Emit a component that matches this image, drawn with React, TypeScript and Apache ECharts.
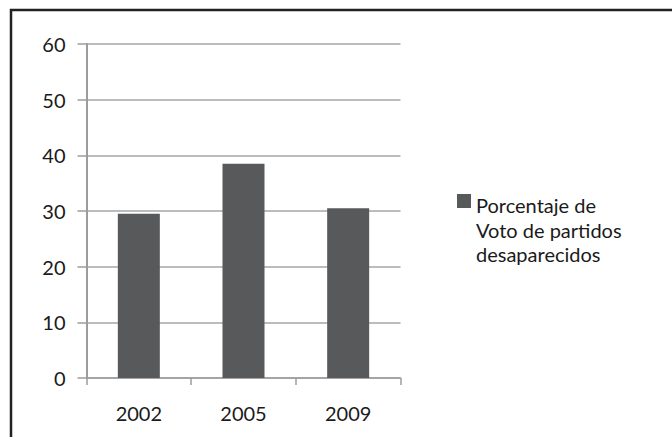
import React, { useEffect, useRef } from "react";
import * as echarts from "echarts";

const categories = ["2002", "2005", "2009"];
const seriesName = "Porcentaje de\nVoto de partidos\ndesaparecidos";
const values = [29.5, 38.5, 30.5];
const yMin = 0;
const yMax = 60;
const yInterval = 10;

export default function App() {
  const ref = useRef<HTMLDivElement>(null);
  useEffect(() => {
    if (!ref.current) return;
    const chart = echarts.init(ref.current, undefined, { renderer: "svg" });
    const font = "Lato, 'Open Sans', sans-serif";
    chart.setOption({
      animation: false,
      backgroundColor: "#ffffff",
      textStyle: { fontFamily: font },
      graphic: [
        {
          type: "rect",
          shape: { x: 11, y: 10, width: 720, height: 500 },
          style: { fill: "none", stroke: "#222222", lineWidth: 2.5 },
          silent: true,
        },
      ],
      grid: { left: 86.5, right: 271.5, top: 44, bottom: 59, containLabel: false },
      legend: {
        left: 457,
        top: 193,
        padding: 0,
        orient: "vertical",
        itemWidth: 14,
        itemHeight: 71.5,
        itemGap: 6,
        icon: "path://M0,0L14,0L14,14L0,14Z M0,71.49L0.01,71.49L0.01,71.5L0,71.5Z",
        data: [seriesName],
        textStyle: {
          fontFamily: font,
          fontSize: 20,
          color: "#1a1a1a",
          lineHeight: 24.5,
        },
      },
      xAxis: {
        type: "category",
        data: categories,
        axisLine: { lineStyle: { color: "#9c9c9c", width: 1.5 } },
        axisTick: { show: true, length: 7, lineStyle: { color: "#9c9c9c", width: 1.5 } },
        axisLabel: { fontSize: 20, color: "#1a1a1a", margin: 25, fontFamily: font },
        splitLine: { show: false },
      },
      yAxis: {
        type: "value",
        min: yMin,
        max: yMax,
        interval: yInterval,
        axisLine: { show: true, lineStyle: { color: "#9c9c9c", width: 2 } },
        axisTick: { show: true, length: 9, lineStyle: { color: "#9c9c9c", width: 1.5 } },
        axisLabel: { fontSize: 20, color: "#1a1a1a", margin: 21, fontFamily: font },
        splitLine: { show: true, lineStyle: { color: "#a6a6a6", width: 1.5 } },
      },
      series: [
        {
          name: seriesName,
          type: "bar",
          data: values,
          barWidth: 42,
          itemStyle: { color: "#58595b" },
        },
      ],
    });
    return () => chart.dispose();
  }, []);
  return (
    <div
      ref={ref}
      style={{ position: "fixed", left: 0, top: 0, width: 672, height: 437 }}
    />
  );
}
